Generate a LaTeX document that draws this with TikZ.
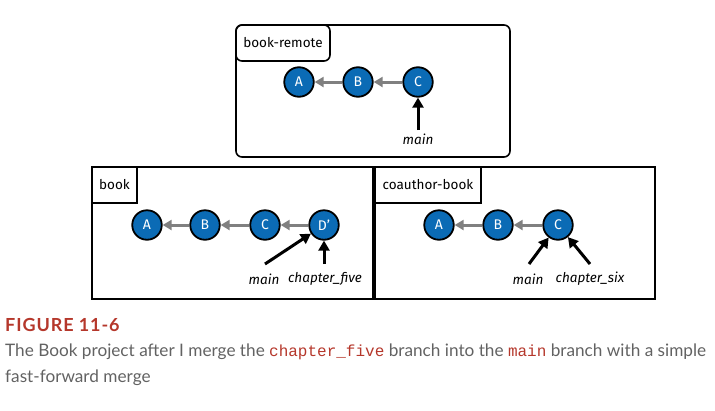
\documentclass[tikz,border=0pt]{standalone}
\usepackage{fontspec}
\setmainfont{Lato}
\newfontfamily\diagfont{Fira Sans}
\newfontfamily\codefont{Liberation Mono}
\usetikzlibrary{arrows.meta}
\definecolor{commitblue}{HTML}{0B6BB5}
\definecolor{figred}{HTML}{B5372B}
\definecolor{captgray}{HTML}{626262}
\definecolor{arrgray}{HTML}{808080}
\tikzset{
  commit/.style={circle, draw=black, line width=1.8pt, fill=commitblue, minimum size=29.5pt, inner sep=0pt, text=white, font=\diagfont\fontsize{14}{16}\selectfont},
  parentarr/.style={draw=arrgray, line width=3pt, -{Triangle[length=9pt,width=10pt]}},
  refarr/.style={draw=black, line width=3pt, -{Triangle[length=10pt,width=11pt]}},
  reflabel/.style={font=\diagfont\itshape\fontsize{13.5}{15}\selectfont, inner sep=1pt},
  repobox/.style={draw=black, line width=1.6pt},
  repotext/.style={font=\diagfont\fontsize{13.5}{15}\selectfont, inner sep=0pt}
}
\begin{document}
\begin{tikzpicture}[x=1pt,y=-1pt]
\useasboundingbox (0,0) rectangle (715,410);
% ---- book-remote ----
\draw[repobox, rounded corners=6pt] (236,25) rectangle (510,157);
\draw[repobox, rounded corners=6pt] (236,25) rectangle (330,61);
\node[repotext] (rlab) at (283,43) {book-remote};
\node[commit] (rA) at (299,82) {A};
\node[commit] (rB) at (358,82) {B};
\node[commit] (rC) at (418,82) {C};
\draw[parentarr] (rB) -- (rA);
\draw[parentarr] (rC) -- (rB);
\node[reflabel] (rmain) at (418,139) {main};
\coordinate (rmainstart) at (418,130);
\draw[refarr] (rmainstart) -- (rC);
% ---- book ----
\draw[repobox] (92,167) rectangle (373,299);
\draw[repobox] (92,167) rectangle (137,203);
\node[repotext] (blab) at (114.5,185) {book};
\node[commit] (bA) at (147,225) {A};
\node[commit] (bB) at (205,225) {B};
\node[commit] (bC) at (265,225) {C};
\node[commit] (bD) at (324,225) {D’};
\draw[parentarr] (bB) -- (bA);
\draw[parentarr] (bC) -- (bB);
\draw[parentarr] (bD) -- (bC);
\node[reflabel] (bmain) at (264,279) {main};
\node[reflabel] (bfive) at (325,279) {chapter\_five};
\coordinate (bmainstart) at (265,264);
\coordinate (bfivestart) at (324,264);
\draw[refarr] (bmainstart) -- (bD);
\draw[refarr] (bfivestart) -- (bD);
% ---- coauthor-book ----
\draw[repobox] (375,167) rectangle (655,299);
\draw[repobox] (375,167) rectangle (481,203);
\node[repotext] (clab) at (428,185) {coauthor-book};
\node[commit] (cA) at (439,225) {A};
\node[commit] (cB) at (498,225) {B};
\node[commit] (cC) at (558,225) {C};
\draw[parentarr] (cB) -- (cA);
\draw[parentarr] (cC) -- (cB);
\node[reflabel] (cmain) at (528,279) {main};
\node[reflabel] (csix) at (590,279) {chapter\_six};
\coordinate (cmainstart) at (529,264);
\coordinate (csixstart) at (590,264);
\draw[refarr] (cmainstart) -- (cC);
\draw[refarr] (csixstart) -- (cC);
% ---- caption ----
\node[anchor=west, inner sep=0pt, text=figred, font=\bfseries\fontsize{18}{20}\selectfont\addfontfeature{LetterSpace=5}] (fig) at (5,325) {FIGURE 11-6};
\node[anchor=west, inner sep=0pt, text=captgray, font=\fontsize{17.2}{20}\selectfont] (cap1) at (5,352) {The Book project after I merge the {\codefont\fontsize{16}{20}\selectfont\color{figred}chapter\_five} branch into the {\codefont\fontsize{16}{20}\selectfont\color{figred}main} branch with a simple};
\node[anchor=west, inner sep=0pt, text=captgray, font=\fontsize{17.2}{20}\selectfont] (cap2) at (5,378) {fast-forward merge};
\end{tikzpicture}
\end{document}
